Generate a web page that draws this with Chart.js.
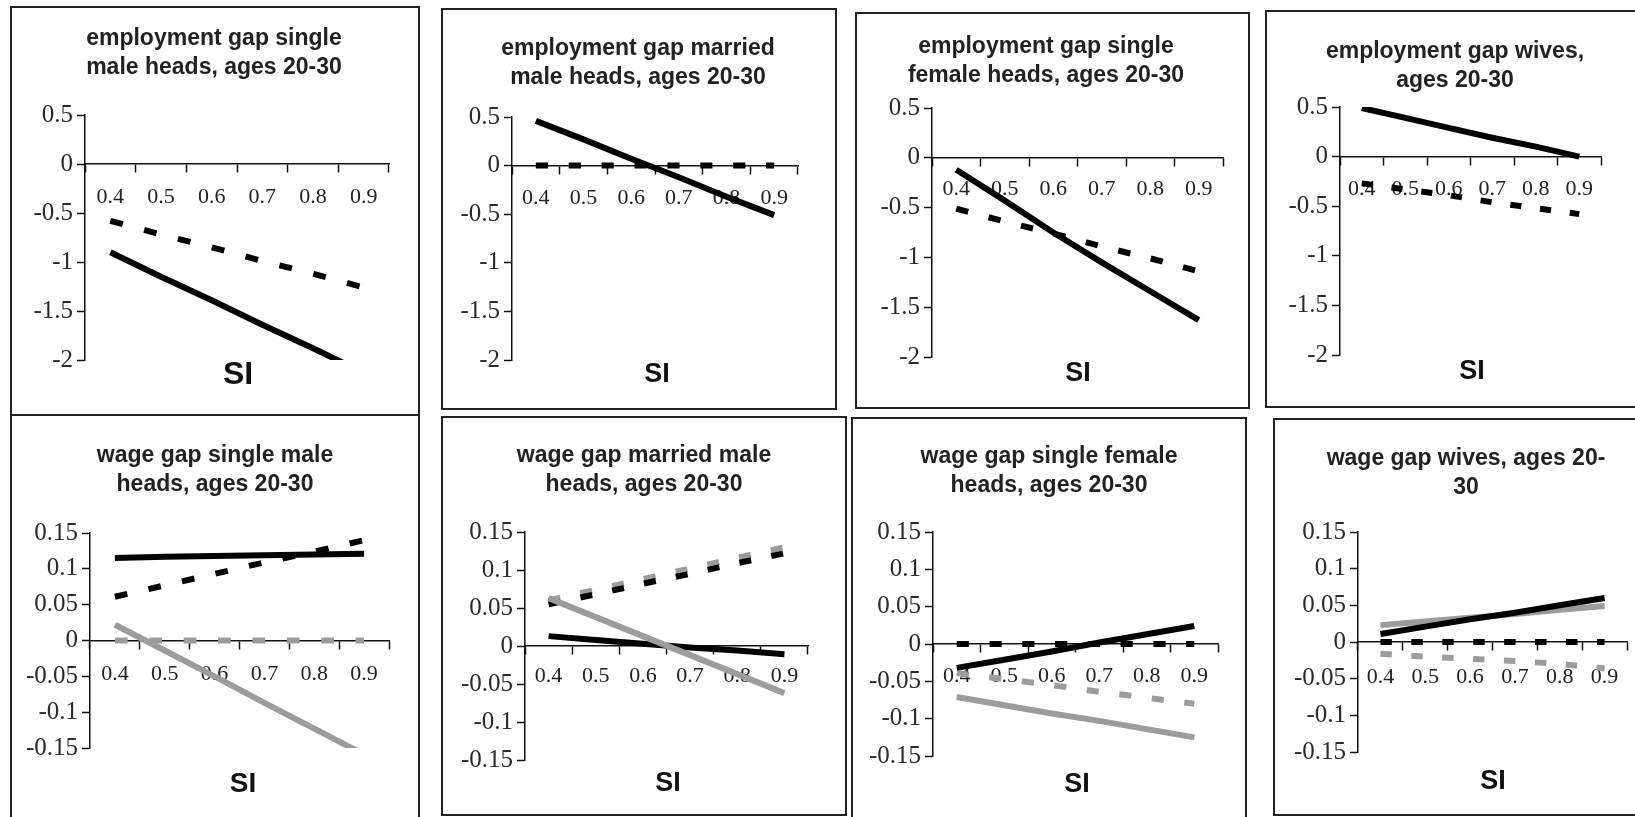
<!DOCTYPE html>
<html>
<head>
<meta charset="utf-8">
<title>Employment and wage gaps by SI</title>
<script src="https://cdn.jsdelivr.net/npm/chart.js@4.4.1/dist/chart.umd.min.js"></script>
<style>
  html, body { margin: 0; padding: 0; background: #fff; }
  #page { position: relative; width: 1635px; height: 817px; overflow: hidden; }
  canvas { position: absolute; }
  .frame { position: absolute; box-sizing: border-box; border: 2px solid #222; pointer-events: none; }
  .title {
    position: absolute; width: 420px; text-align: center; white-space: nowrap;
    font: bold 23px "Liberation Sans", Arial, sans-serif; line-height: 29px; color: #222;
  }
  .si {
    position: absolute; width: 100px; text-align: center;
    font-family: "Liberation Sans", Arial, sans-serif; font-weight: bold; color: #111;
  }
</style>
</head>
<body>
<div id="page"></div>
<script>
// x axis (SI) and y tick labels
const siLabels = ['0.4', '0.5', '0.6', '0.7', '0.8', '0.9'];
const siValues = [0.4, 0.5, 0.6, 0.7, 0.8, 0.9];
const empTicks = [-2, -1.5, -1, -0.5, 0, 0.5];
const empTickLabels = ['-2', '-1.5', '-1', '-0.5', '0', '0.5'];
const wageTicks = [-0.15, -0.1, -0.05, 0, 0.05, 0.1, 0.15];
const wageTickLabels = ['-0.15', '-0.1', '-0.05', '0', '0.05', '0.1', '0.15'];

// employment gap, ages 20-30
const empSingleMale = [-0.90, -1.15, -1.39, -1.64, -1.88, -2.13];
const empSingleMaleDash = [-0.58, -0.72, -0.85, -0.99, -1.12, -1.26];
const empMarriedMale = [0.46, 0.27, 0.07, -0.12, -0.32, -0.51];
const empMarriedMaleDash = [0, 0, 0, 0, 0, 0];
const empSingleFemale = [-0.12, -0.43, -0.75, -1.05, -1.34, -1.63];
const empSingleFemaleDash = [-0.51, -0.64, -0.76, -0.89, -1.01, -1.14];
const empWives = [0.49, 0.39, 0.29, 0.19, 0.10, 0.00];
const empWivesDash = [-0.27, -0.33, -0.39, -0.46, -0.52, -0.58];

// wage gap, ages 20-30
const wageSingleMale = [0.115, 0.117, 0.118, 0.119, 0.120, 0.121];
const wageSingleMaleDash = [0.061, 0.077, 0.093, 0.109, 0.124, 0.140];
const wageSingleMaleGray = [0.022, -0.014, -0.050, -0.087, -0.123, -0.159];
const wageSingleMaleGrayDash = [0, 0, 0, 0, 0, 0];
const wageMarriedMale = [0.013, 0.008, 0.003, -0.002, -0.006, -0.011];
const wageMarriedMaleDash = [0.055, 0.068, 0.082, 0.095, 0.109, 0.122];
const wageMarriedMaleGray = [0.063, 0.038, 0.013, -0.012, -0.037, -0.062];
const wageMarriedMaleGrayDash = [0.060, 0.074, 0.088, 0.102, 0.116, 0.130];
const wageSingleFemale = [-0.032, -0.021, -0.010, 0.002, 0.013, 0.024];
const wageSingleFemaleDash = [0, 0, 0, 0, 0, 0];
const wageSingleFemaleGray = [-0.071, -0.082, -0.093, -0.103, -0.114, -0.125];
const wageSingleFemaleGrayDash = [-0.039, -0.047, -0.055, -0.064, -0.072, -0.080];
const wageWives = [0.011, 0.021, 0.031, 0.040, 0.050, 0.060];
const wageWivesDash = [0, 0, 0, 0, 0, 0];
const wageWivesGray = [0.023, 0.028, 0.033, 0.038, 0.044, 0.049];
const wageWivesGrayDash = [-0.016, -0.020, -0.023, -0.026, -0.030, -0.036];

const BLACK = '#000';
const GRAY = '#9c9c9c';

// series are listed bottom to top
const panels = [
  {
    title: ['employment gap single', 'male heads, ages 20-30'], ticks: empTicks, tickLabels: empTickLabels,
    series: [[empSingleMaleDash, BLACK, true], [empSingleMale, BLACK, false]],
    box: [10, 6, 420, 416], plot: [85, 115, 389, 360], titleAt: [214, 37], siAt: [238, 373, 32], labelGap: 33,
  },
  {
    title: ['employment gap married', 'male heads, ages 20-30'], ticks: empTicks, tickLabels: empTickLabels,
    series: [[empMarriedMaleDash, BLACK, true], [empMarriedMale, BLACK, false]],
    box: [441, 8, 837, 410], plot: [512, 117, 798, 360], titleAt: [638, 47], siAt: [657, 373, 27], labelGap: 32,
  },
  {
    title: ['employment gap single', 'female heads, ages 20-30'], ticks: empTicks, tickLabels: empTickLabels,
    series: [[empSingleFemaleDash, BLACK, true], [empSingleFemale, BLACK, false]],
    box: [855, 12, 1250, 409], plot: [932, 108, 1223, 357], titleAt: [1046, 45], siAt: [1078, 372, 27], labelGap: 31,
  },
  {
    title: ['employment gap wives,', 'ages 20-30'], ticks: empTicks, tickLabels: empTickLabels,
    series: [[empWivesDash, BLACK, true], [empWives, BLACK, false]],
    box: [1265, 10, 1640, 408], plot: [1340, 107, 1601, 355], titleAt: [1455, 50], siAt: [1472, 370, 27], labelGap: 32,
  },
  {
    title: ['wage gap single male', 'heads, ages 20-30'], ticks: wageTicks, tickLabels: wageTickLabels,
    series: [[wageSingleMaleGrayDash, GRAY, true], [wageSingleMaleGray, GRAY, false],
             [wageSingleMale, BLACK, false], [wageSingleMaleDash, BLACK, true]],
    box: [10, 414, 420, 822], plot: [90, 533, 389, 748], titleAt: [215, 454], siAt: [243, 783, 28], labelGap: 34,
  },
  {
    title: ['wage gap married male', 'heads, ages 20-30'], ticks: wageTicks, tickLabels: wageTickLabels,
    series: [[wageMarriedMaleGrayDash, GRAY, true], [wageMarriedMaleDash, BLACK, true],
             [wageMarriedMale, BLACK, false], [wageMarriedMaleGray, GRAY, false]],
    box: [441, 416, 847, 816], plot: [525, 532, 808, 760], titleAt: [644, 454], siAt: [668, 782, 27], labelGap: 30,
  },
  {
    title: ['wage gap single female', 'heads, ages 20-30'], ticks: wageTicks, tickLabels: wageTickLabels,
    series: [[wageSingleFemaleGrayDash, GRAY, true], [wageSingleFemaleGray, GRAY, false],
             [wageSingleFemaleDash, BLACK, true], [wageSingleFemale, BLACK, false]],
    box: [851, 417, 1247, 822], plot: [933, 532, 1218, 756], titleAt: [1049, 455], siAt: [1077, 783, 27], labelGap: 32,
  },
  {
    title: ['wage gap wives, ages 20-', '30'], ticks: wageTicks, tickLabels: wageTickLabels,
    series: [[wageWivesGrayDash, GRAY, true], [wageWivesDash, BLACK, true],
             [wageWivesGray, GRAY, false], [wageWives, BLACK, false]],
    box: [1273, 418, 1640, 816], plot: [1358, 532, 1627, 752], titleAt: [1466, 457], siAt: [1493, 780, 27], labelGap: 35,
  },
];

const page = document.getElementById('page');
const xTickFont = { family: '"Liberation Serif", "Times New Roman", serif', size: 22 };
// the y labels in the source are drawn larger than the x labels
const yTickFont = { family: '"Liberation Serif", "Times New Roman", serif', size: 25 };
const axisColor = '#111';

function addDiv(cls, left, top, html, extra) {
  const el = document.createElement('div');
  el.className = cls;
  el.style.left = left + 'px';
  el.style.top = top + 'px';
  Object.assign(el.style, extra || {});
  el.innerHTML = html;
  page.appendChild(el);
  return el;
}

function renderPanel(p) {
  const [bl, bt, br, bb] = p.box;
  const [x0, y0, x1, y1] = p.plot;

  const canvas = document.createElement('canvas');
  canvas.width = br - bl;
  canvas.height = bb - bt;
  canvas.style.left = bl + 'px';
  canvas.style.top = bt + 'px';
  page.appendChild(canvas);

  addDiv('frame', bl, bt, '', { width: (br - bl) + 'px', height: (bb - bt) + 'px' });
  addDiv('title', p.titleAt[0] - 210, p.titleAt[1] - 14.5, p.title.join('<br>'));
  const [sx, sy, ss] = p.siAt;
  addDiv('si', sx - 50, sy - ss / 2, 'SI', { fontSize: ss + 'px', lineHeight: ss + 'px' });

  // dash period follows the width of one SI step
  const period = (x1 - x0) / siLabels.length * 0.69;
  const dash = [period * 0.37, period * 0.63];

  new Chart(canvas, {
    type: 'line',
    data: {
      datasets: p.series.slice().reverse().map(([values, color, dashed]) => ({
        data: siValues.map((x, i) => ({ x, y: values[i] })),
        borderColor: color,
        borderWidth: 6,
        borderDash: dashed ? dash : [],
        pointRadius: 0,
        tension: 0,
        xAxisID: 'x',
        yAxisID: 'y',
      })),
    },
    options: {
      responsive: false,
      animation: false,
      devicePixelRatio: 1,
      events: [],
      layout: { padding: { left: 0, top: y0 - bt, right: br - x1, bottom: bb - y1 } },
      plugins: { legend: { display: false }, tooltip: { enabled: false } },
      scales: {
        x: { type: 'linear', display: false, min: 0.35, max: 0.95 },
        xc: {
          type: 'category',
          axis: 'x',
          labels: siLabels,
          offset: true,
          position: { y: 0 },
          grid: { offset: true, drawOnChartArea: false, tickLength: 8, tickWidth: 1.5, tickColor: axisColor },
          border: { color: axisColor, width: 1.5 },
          ticks: { font: xTickFont, color: '#222', padding: p.labelGap - 21, maxRotation: 0, autoSkip: false },
          afterFit: s => { s.height = 0; s.paddingLeft = 0; s.paddingRight = 0; },
        },
        y: {
          type: 'linear',
          position: 'left',
          min: p.ticks[0],
          max: p.ticks[p.ticks.length - 1],
          afterBuildTicks: s => { s.ticks = p.ticks.map(value => ({ value })); },
          grid: { drawOnChartArea: false, tickLength: 8, tickWidth: 1.5, tickColor: axisColor },
          border: { color: axisColor, width: 1.5 },
          ticks: { font: yTickFont, color: '#2a2a2a', padding: 4, autoSkip: false, callback: (v, i) => p.tickLabels[i] },
          // the axis box fills the space left of the plot so the labels are not clipped
          afterFit: s => { s.width = x0 - bl; s.paddingTop = 0; s.paddingBottom = 0; },
        },
      },
    },
  });
}

panels.forEach(renderPanel);
</script>
</body>
</html>
